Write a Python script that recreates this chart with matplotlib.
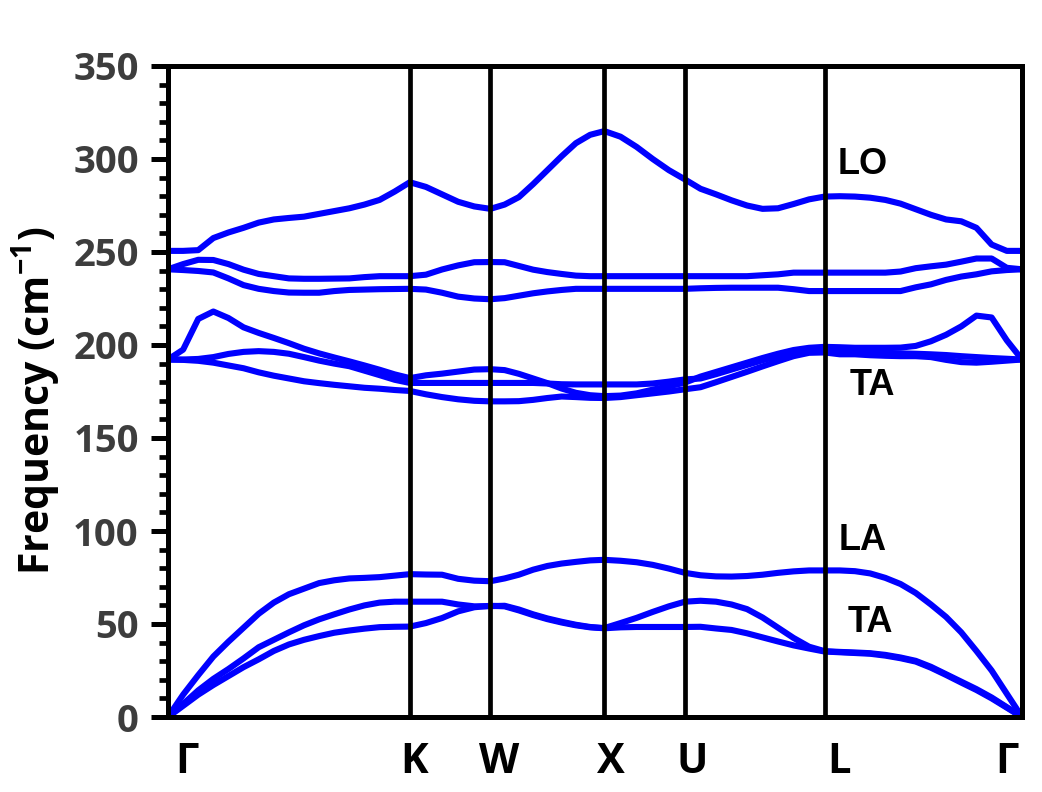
import matplotlib
matplotlib.use('Agg')
import matplotlib.pyplot as plt
import matplotlib.transforms as mtransforms
import numpy as np

# =============================================================================
# data
# =============================================================================
# high symmetry points along the fcc path (units of 2pi/a)
labels = ['Γ', 'K', 'W', 'X', 'U', 'L', 'Γ']
kpts = [0.0, 1.0607, 1.4142, 1.9142, 2.2678, 2.8802, 3.7462]
nseg = [16, 5, 8, 5, 9, 13]   # sampled intervals per segment

# frequencies (cm-1) read along the path, one list per branch
ta1 = [0, 6, 12, 17.2, 22, 26.8, 31, 35.5, 39, 41.5, 43.5, 45.3, 46.5, 47.5, 48.3, 48.5, 48.6,
       50.5, 53.2, 56.8, 59, 59.8,
       59.5, 57.3, 54.8, 52.6, 50.8, 49.3, 48.2, 47.7,
       48.2, 48.4, 48.4, 48.4, 48.4,
       48.5, 47.6, 46.8, 45, 42.8, 40.6, 38.5, 36.8, 35.2,
       34.8, 34.4, 34, 33, 31.6, 29.8, 26.5, 22.6, 18.5, 14.5, 10, 5, 0]
ta2 = [0, 7, 14.3, 20.5, 25.8, 31.5, 37.5, 41.5, 45.5, 49.3, 52.5, 55.2, 57.8, 60, 61.5, 62, 62,
       62, 62, 60.5, 59.5, 59.6,
       59.8, 57.8, 55.2, 53, 51.2, 49.6, 48.4, 47.8,
       50.5, 53.3, 56.5, 59.5, 62,
       62.5, 62, 60.5, 58, 53.5, 48, 42.5, 37.8, 35.4,
       35, 34.7, 34.3, 33.4, 32, 30.2, 27, 23, 19, 15, 10.5, 5.3, 0]
la = [0, 12, 22.5, 32.5, 40.5, 48, 55.5, 61.5, 66, 69, 72, 73.5, 74.5, 74.8, 75.2, 76, 76.8,
      76.6, 76.5, 74.3, 73.3, 73,
      74.5, 76.5, 79.2, 81.2, 82.5, 83.4, 84.2, 84.5,
      84, 83.2, 81.8, 79.8, 77.5,
      76.2, 75.6, 75.5, 75.8, 76.5, 77.5, 78.3, 78.8, 78.8,
      78.8, 78.4, 77.2, 74.8, 71.5, 66.7, 60.5, 53.8, 45.5, 35.5, 25, 12.5, 0]
opt1 = [192.2, 192, 191.5, 190.5, 189, 187.5, 185.3, 183.5, 182, 180.5, 179.5, 178.6, 177.8, 177, 176.5, 175.8, 175.3,
        173.5, 172, 170.8, 170, 169.7,
        169.7, 169.8, 170.5, 171.5, 172.3, 172, 171.6, 171.5,
        172, 173, 174, 175, 176.2,
        177.3, 180, 182.8, 185.6, 188.5, 191.3, 194, 195.8, 196,
        195, 195, 194.5, 194.2, 194, 194, 193.5, 192, 190.8, 190.5, 191, 191.6, 192.2]
opt2 = [192.2, 192.2, 192.5, 193.5, 195.2, 196.3, 196.7, 196.3, 195.3, 193.5, 191.6, 190, 188.6, 186.2, 183.8, 181.3, 179.6,
        179.6, 179.6, 179.6, 179.6, 179.6,
        179.6, 179.6, 179.6, 179.3, 178.9, 178.8, 178.8, 178.8,
        178.8, 178.8, 179.3, 180.3, 181.5,
        182, 184.3, 186.8, 189.3, 191.8, 194, 196, 197, 197,
        196.5, 196, 196, 195.8, 195.5, 195.3, 195, 194.6, 194, 193.5, 193, 192.6, 192.2]
opt3 = [192.2, 197.5, 214, 218, 214.5, 209.5, 206.5, 203.8, 201, 198, 195.5, 193.3, 191.2, 189, 186.7, 184.2, 182.2,
        183.7, 184.6, 185.7, 186.8, 187,
        186.5, 184.5, 182, 179.5, 176.6, 174.3, 173, 172.5,
        172.8, 174, 176, 177.8, 179.8,
        183, 185.5, 188, 190.5, 193, 195.3, 197.3, 198.5, 199,
        198.8, 198.5, 198.5, 198.5, 198.6, 199.5, 202, 205.5, 210, 215.8, 214.8, 202.5, 192.2]
to1 = [240.7, 240.3, 239.8, 239, 235.8, 232.2, 230.2, 229, 228.2, 228.1, 228.1, 229, 229.6, 229.8, 230, 230.1, 230.2,
       229.8, 228.1, 226, 225, 224.6,
       225.2, 226.5, 227.8, 228.8, 229.6, 230.2, 230.2, 230.2,
       230.2, 230.2, 230.2, 230.2, 230.2,
       230.5, 230.7, 230.8, 230.8, 230.8, 230.8, 230, 229, 229,
       229, 229, 229, 229, 229, 231, 232.6, 235, 236.8, 238, 239.6, 240.3, 240.7]
to2 = [240.7, 243.5, 245.8, 245.7, 243.5, 240.5, 238.2, 237, 235.8, 235.6, 235.6, 235.7, 235.8, 236.5, 237, 237, 237,
       237.8, 240.6, 242.8, 244.5, 244.6,
       244.5, 242.5, 240.5, 239.2, 238.2, 237.3, 237, 237,
       237, 237, 237, 237, 237,
       237, 237, 237, 237, 237.5, 238, 238.9, 238.9, 238.9,
       238.9, 238.9, 238.9, 238.9, 239.5, 241.3, 242.3, 243.2, 244.8, 246.5, 246.5, 241.5, 240.7]
lo = [250.6, 250.6, 251, 257.5, 260.5, 263, 265.8, 267.5, 268.3, 269, 270.5, 272, 273.5, 275.5, 278, 282.5, 287.5,
      285, 281, 277, 274.5, 273.2,
      275.5, 279.5, 286.5, 294, 301.5, 308.5, 313, 315,
      312, 306.5, 300, 294, 289,
      284, 281, 277.8, 275, 273.2, 273.5, 275.8, 278.3, 279.8,
      280, 279.8, 279.2, 278, 276, 273, 270, 267.5, 266.5, 263, 254, 250.6, 250.6]

bands = [ta1, ta2, la, opt1, opt2, opt3, to1, to2, lo]

# branch labels
mode_names = ['LO', 'TA', 'LA', 'TA']
mode_k = [3.049, 3.088, 3.049, 3.079]
mode_f = [297, 178, 95, 51]

# =============================================================================
# k grid
# =============================================================================
k = [kpts[0]]
for i in range(len(nseg)):
    k += list(np.linspace(kpts[i], kpts[i + 1], nseg[i] + 1)[1:])
k = np.array(k)

# =============================================================================
# plot
# =============================================================================
plt.rcParams['mathtext.fontset'] = 'custom'
plt.rcParams['mathtext.rm'] = 'Open Sans:bold'
plt.rcParams['mathtext.bf'] = 'Open Sans:bold'
plt.rcParams['mathtext.it'] = 'Open Sans:bold'

fig = plt.figure(figsize=(10.42, 7.92), dpi=100)
ax = fig.add_axes([168 / 1042, 75 / 792, 854 / 1042, 651 / 792])

for b in bands:
    ax.plot(k, b, color='#0000ff', lw=4.4, solid_joinstyle='round', zorder=2)
# the branches are joined at both Gamma ends
ax.vlines([k[0], k[-1]], 0, [lo[0], lo[-1]], color='#0000ff', lw=2.6, zorder=2)

# high symmetry lines
for kp in kpts[1:-1]:
    ax.axvline(kp, color='black', lw=3.4, zorder=3)

ax.set_xlim(kpts[0], kpts[-1])
ax.set_ylim(0, 350)

for s in ax.spines.values():
    s.set_linewidth(3.6)
    s.set_zorder(4)

ax.set_yticks(np.arange(0, 351, 50))
ax.set_yticks(np.arange(0, 351, 10), minor=True)
ax.tick_params(axis='y', which='major', direction='out', length=12, width=3.6,
               pad=9, labelsize=27.5, labelcolor='#3d3d3d')
ax.tick_params(axis='y', which='minor', direction='out', length=6.5, width=3.4)
for t in ax.get_yticklabels():
    t.set_fontfamily('Open Sans')
    t.set_fontweight('bold')

ax.set_xticks(kpts)
ax.set_xticklabels(labels)
ax.tick_params(axis='x', length=0, pad=18, labelsize=30, labelcolor='black')
shift = [19, 4, 9, 7, 7, 14, -15]
for t, dx in zip(ax.get_xticklabels(), shift):
    t.set_fontfamily('Open Sans')
    t.set_fontweight('bold')
    t.set_transform(t.get_transform() + mtransforms.ScaledTranslation(dx / 100, 0, fig.dpi_scale_trans))

ax.set_ylabel(r'Frequency (cm$^{-1}$)', fontsize=29.5, fontfamily='Open Sans',
              fontweight='bold', color='black')
ax.yaxis.set_label_coords(-0.124, 0.485)

for name, kk, ff in zip(mode_names, mode_k, mode_f):
    ax.text(kk, ff, name, fontsize=26, fontfamily='Liberation Sans', fontweight='bold',
            ha='center', va='center', color='black')

plt.savefig('out.png', dpi=100)
